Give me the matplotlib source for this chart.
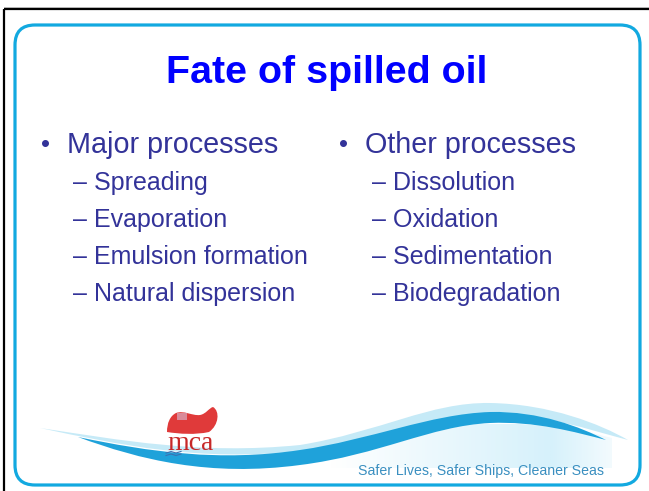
import matplotlib
matplotlib.use("Agg")
import matplotlib.pyplot as plt
import numpy as np
from matplotlib.patches import FancyBboxPatch, PathPatch
from matplotlib.path import Path
from matplotlib.colors import LinearSegmentedColormap

# ---- slide content ----
title = "Fate of spilled oil"
left_heading = "Major processes"
left_items = ["Spreading", "Evaporation", "Emulsion formation", "Natural dispersion"]
right_heading = "Other processes"
right_items = ["Dissolution", "Oxidation", "Sedimentation", "Biodegradation"]
tagline = "Safer Lives, Safer Ships, Cleaner Seas"
logo_text = "mca"

TEXT_COL = "#333399"
TITLE_COL = "#0000FF"
FRAME_COL = "#12A9E0"

fig = plt.figure(figsize=(6.49, 4.91), dpi=100)
ax = fig.add_axes([0, 0, 1, 1])
ax.set_xlim(0, 649)
ax.set_ylim(491, 0)
ax.axis("off")

# outer black border (top + left)
ax.plot([3.5, 3.5], [8.5, 491], color="black", lw=1.6, solid_capstyle="butt")
ax.plot([3.5, 649], [8.5, 8.5], color="black", lw=1.6, solid_capstyle="butt")
ax.plot([3.5, 649], [6.5, 6.5], color="#aaaaaa", lw=0.6)

# rounded blue frame
frame = FancyBboxPatch((15, 25), 625, 460, boxstyle="round,pad=0,rounding_size=20",
                       fill=False, ec=FRAME_COL, lw=2.3)
ax.add_patch(frame)

# title
ax.text(327, 83, title, ha="center", va="baseline", fontsize=28.4,
        fontweight="bold", color=TITLE_COL, family="Liberation Sans")

# headings
y_head = 153
ax.text(46, y_head - 1, "\u2022", ha="center", va="baseline", fontsize=18.5,
        color=TEXT_COL, family="Liberation Sans")
ax.text(67, y_head, left_heading, ha="left", va="baseline", fontsize=20.7,
        color=TEXT_COL, family="Liberation Sans")
ax.text(344, y_head - 1, "\u2022", ha="center", va="baseline", fontsize=18.5,
        color=TEXT_COL, family="Liberation Sans")
ax.text(365, y_head, right_heading, ha="left", va="baseline", fontsize=20.7,
        color=TEXT_COL, family="Liberation Sans")

# sub items
y0, dy = 190, 37
for i, item in enumerate(left_items):
    ax.text(73, y0 + i * dy, "\u2013 " + item, ha="left", va="baseline",
            fontsize=18, color=TEXT_COL, family="Liberation Sans")
for i, item in enumerate(right_items):
    ax.text(372, y0 + i * dy, "\u2013 " + item, ha="left", va="baseline",
            fontsize=18, color=TEXT_COL, family="Liberation Sans")

# ---- bottom wave decoration ----
C4 = Path.CURVE4

# light background behind the tagline (gradient)
bg_verts = [(330, 460), (400, 440), (470, 424), (520, 424), (570, 428), (612, 438),
            (612, 468), (330, 468), (330, 460)]
grad = np.concatenate([np.linspace(0, 1, 200), np.linspace(1, 0.3, 56)]).reshape(1, -1)
cm_bg = LinearSegmentedColormap.from_list("bg", ["#ffffff", "#d6f1fb"])
im = ax.imshow(grad, extent=(330, 612, 468, 420), cmap=cm_bg, aspect="auto", zorder=1)
bg_patch = PathPatch(Path(bg_verts), fc="none", ec="none")
ax.add_patch(bg_patch)
im.set_clip_path(bg_patch)

# light swoosh (upper band)
light_verts = [(40, 428),
               (120, 440), (200, 455), (300, 445),
               (380, 432), (430, 402), (490, 403),
               (550, 404), (600, 424), (628, 440),
               (590, 430), (540, 413), (490, 413),
               (430, 415), (370, 441), (300, 451),
               (200, 462), (120, 445), (40, 428),
               (40, 428)]
codes = [Path.MOVETO] + [C4] * 18 + [Path.CLOSEPOLY]
ax.add_patch(PathPatch(Path(light_verts, codes), fc="#c6eaf7", ec="none", zorder=2))

# dark swoosh
dark_verts = [(78, 437),
              (150, 452), (220, 462), (300, 450),
              (370, 440), (430, 414), (490, 412),
              (540, 411), (580, 427), (606, 440),
              (575, 432), (535, 421), (490, 423),
              (430, 426), (380, 455), (300, 465),
              (210, 477), (140, 460), (78, 437),
              (78, 437)]
ax.add_patch(PathPatch(Path(dark_verts, codes), fc="#1FA2DA", ec="none", zorder=3))

# mca logo: red flag
flag_verts = [(167, 432),
              (167, 423), (170, 416), (176, 413),
              (184, 410), (192, 416), (200, 415),
              (206, 414), (209, 408), (213, 407),
              (220, 411), (219, 425), (209, 432),
              (195, 435), (180, 434), (167, 432),
              (167, 432)]
flag_codes = [Path.MOVETO] + [C4] * 15 + [Path.CLOSEPOLY]
ax.add_patch(PathPatch(Path(flag_verts, flag_codes), fc="#E03A3A", ec="none", zorder=4))
ax.add_patch(plt.Rectangle((177, 413), 10, 7, fc="#d98a99", ec="none", zorder=5))
ax.text(191, 450, logo_text, ha="center", va="baseline", fontsize=20,
        color="#C62828", family="Liberation Serif", zorder=5)
ax.plot([166, 171, 176, 181], [453, 451.5, 453, 451.5], color="#3d6fb0", lw=0.8, zorder=5)
ax.plot([166, 171, 176, 181], [455.5, 454, 455.5, 454], color="#3d6fb0", lw=0.8, zorder=5)

# tagline
ax.text(358, 475, tagline, ha="left", va="baseline", fontsize=10.2,
        color="#3A8FC0", family="Liberation Sans", zorder=5)

fig.savefig("out.png", dpi=100)
